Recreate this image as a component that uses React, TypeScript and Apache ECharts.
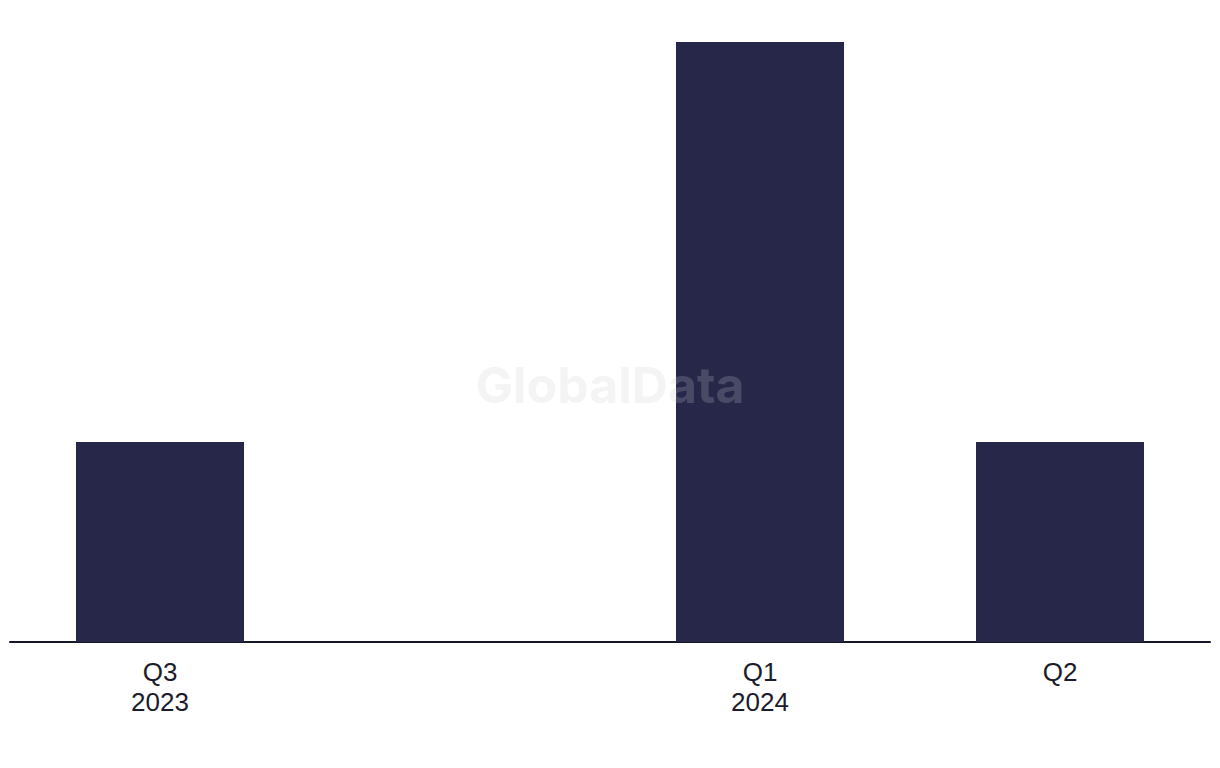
import React, { useEffect, useRef } from "react";
import * as echarts from "echarts";

const categories = ["Q3\n2023", "", "Q1\n2024", "Q2"];
const values = [1, 0, 3, 1];
const yMax = 3;
const watermarkText = "GlobalData";

export default function App() {
  const ref = useRef<HTMLDivElement>(null);
  useEffect(() => {
    if (!ref.current) return;
    const chart = echarts.init(ref.current, null, { renderer: "svg" });
    chart.setOption({
      animation: false,
      backgroundColor: "#ffffff",
      grid: { left: 10, right: 10, top: 42, bottom: 126, containLabel: false },
      xAxis: {
        type: "category",
        data: categories,
        axisLine: { show: true, lineStyle: { color: "#16162a", width: 2 } },
        axisTick: { show: false },
        axisLabel: {
          color: "#1c1c2c",
          fontSize: 26,
          lineHeight: 30,
          fontFamily: "'Liberation Sans', Arial, sans-serif",
          margin: 15,
          interval: 0,
        },
      },
      yAxis: {
        type: "value",
        min: 0,
        max: yMax,
        show: false,
        splitLine: { show: false },
      },
      series: [
        {
          type: "bar",
          data: values,
          barWidth: "56%",
          itemStyle: { color: "#272849" },
          z: 2,
        },
      ],
      graphic: [
        {
          type: "text",
          left: "center",
          top: 360,
          z: 100,
          style: {
            text: watermarkText,
            fontSize: 50,
            fontWeight: "bold",
            fontFamily: "Inter, 'Liberation Sans', sans-serif",
            fill: "rgba(205,205,210,0.21)",
          },
        },
      ],
    });
    return () => chart.dispose();
  }, []);
  return (
    <div
      ref={ref}
      style={{ position: "fixed", left: 0, top: 0, width: 1220, height: 768 }}
    />
  );
}
